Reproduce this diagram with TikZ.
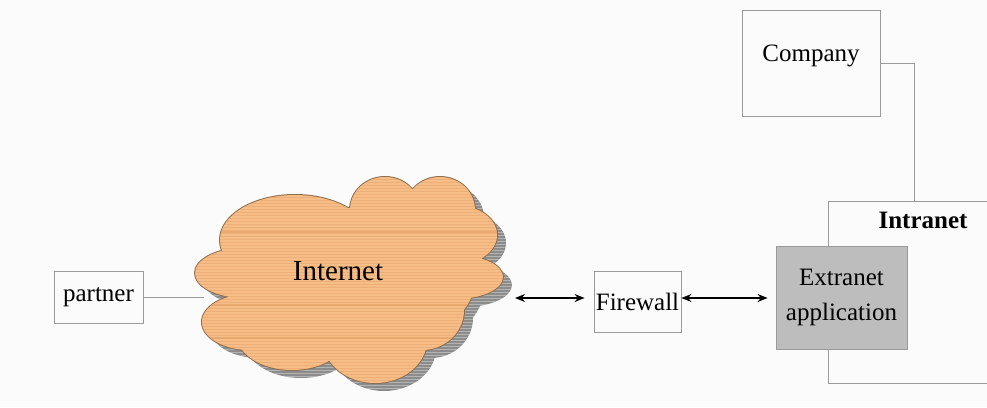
\documentclass[tikz,border=0pt]{standalone}
\usepackage{fontspec}
\setmainfont{Liberation Serif}
\usetikzlibrary{arrows.meta}
\definecolor{bg}{HTML}{FBFBFB}
\definecolor{cloudfill}{HTML}{F6BD87}
\definecolor{cloudstripe}{HTML}{E3A064}
\definecolor{cloudline}{HTML}{8E6E50}
\definecolor{shadowfill}{HTML}{8C8C8C}
\definecolor{boxline}{HTML}{9A9A9A}
\definecolor{extfill}{HTML}{BDBDBD}
\def\cloudlist{245/273/50/25, 250/322/48/28, 292/335/55/35, 375/340/52/43, 422/310/42/40, 455/277/48/22, 455/235/42/30, 440/210/35/33, 385/210/35/33, 295/240/75/45, 350/280/125/72}
\tikzset{
  box/.style={draw=boxline, line width=0.9pt, inner sep=0pt, font=\fontsize{25}{27}\selectfont},
  conn/.style={draw=boxline, line width=0.9pt},
  biarrow/.style={{Stealth[length=10pt,width=8pt]}-{Stealth[length=10pt,width=8pt]}, line width=1.3pt, black}
}
\begin{document}
\begin{tikzpicture}[x=1pt,y=-1pt]
\useasboundingbox[fill=bg] (0,0) rectangle (987,407);
% cloud shadow
\begin{scope}[shift={(9,8)}]
  \fill[shadowfill] (0,0) foreach \a/\b/\c/\d in \cloudlist { (\a,\b) ellipse [x radius=\c pt, y radius=\d pt] };
  \begin{scope}
    \clip (0,0) foreach \a/\b/\c/\d in \cloudlist { (\a,\b) ellipse [x radius=\c pt, y radius=\d pt] };
    \foreach \yy in {170,173,...,400} { \draw[white, opacity=0.35, line width=0.8pt] (180,\yy) -- (530,\yy); }
  \end{scope}
\end{scope}
% cloud outline and fill
\draw[cloudline, line width=2pt] (0,0) foreach \a/\b/\c/\d in \cloudlist { (\a,\b) ellipse [x radius=\c pt, y radius=\d pt] };
\fill[cloudfill] (0,0) foreach \a/\b/\c/\d in \cloudlist { (\a,\b) ellipse [x radius=\c pt, y radius=\d pt] };
\begin{scope}
  \clip (0,0) foreach \a/\b/\c/\d in \cloudlist { (\a,\b) ellipse [x radius=\c pt, y radius=\d pt] };
  \foreach \yy in {170,173,...,400} { \draw[cloudstripe, opacity=0.45, line width=0.7pt] (180,\yy) -- (520,\yy); }
  \draw[cloudstripe, opacity=0.6, line width=2pt] (180,232) -- (520,232);
  \draw[cloudstripe, opacity=0.6, line width=2pt] (180,305) -- (520,305);
  \draw[cloudstripe, opacity=0.6, line width=2pt] (180,338) -- (520,338);
\end{scope}
\node[font=\fontsize{29}{31}\selectfont] (internet) at (338,271) {Internet};
\coordinate (cloudW) at (204,297);
\coordinate (cloudE) at (515,298);

% boxes
\node[box, minimum width=89pt, minimum height=52pt] (partner) at (98.5,297) {partner};
\node[box, minimum width=87pt, minimum height=61pt] (firewall) at (637.5,301.5) {Firewall};
\node[box, fill=extfill, minimum width=131pt, minimum height=103pt, align=center, font=\fontsize{25}{35}\selectfont] (extranet) at (841.5,297.5) {Extranet\\application};
\node[box, minimum width=138pt, minimum height=106pt] (company) at (811,63) {};
\node[font=\fontsize{25}{27}\selectfont] (companylabel) at (811,56) {Company};
\node[font=\fontsize{25}{27}\selectfont\bfseries] (intranetlabel) at (923,220) {Intranet};

% connectors
\draw[conn] (partner.east) -- (cloudW);
\draw[biarrow] (cloudE) -- ([xshift=-9pt]firewall.west |- cloudE);
\draw[biarrow] (firewall.east |- cloudE) -- ([xshift=-8pt]extranet.west |- cloudE);
\coordinate (intTL) at (828,201);
\coordinate (intTR) at (987,201);
\coordinate (intBL) at (828,383);
\coordinate (intBR) at (987,383);
\coordinate (compBend) at (914,63);
\draw[conn] (company.east |- 0,63) -- (compBend) -- (compBend |- intTL);
\draw[conn] (extranet.north -| intTL) -- (intTL) -- (intTR);
\draw[conn] (extranet.south -| intBL) -- (intBL) -- (intBR);
\end{tikzpicture}
\end{document}
